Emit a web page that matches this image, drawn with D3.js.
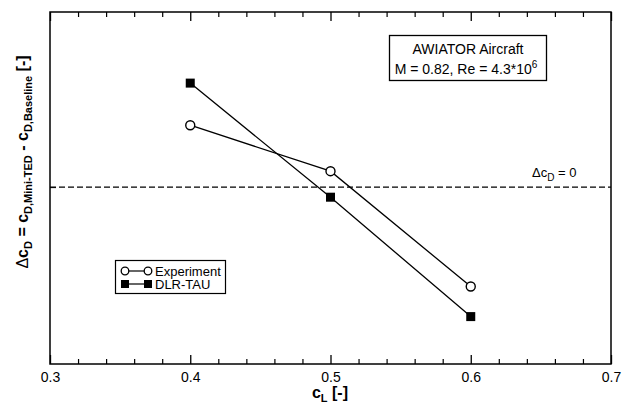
<!DOCTYPE html>
<html>
<head>
<meta charset="utf-8">
<script src="https://cdn.jsdelivr.net/npm/d3@7"></script>
<style>
  body { margin: 0; background: #fff; }
  svg text { font-family: 'Liberation Sans', Arial, sans-serif; fill: #000; }
</style>
</head>
<body>
<div id="chart"></div>
<script>
var CL = [0.4, 0.5, 0.6]
var EXPERIMENT = [0.35, 0.09, -0.562]
var DLR_TAU = [0.588, -0.057, -0.732]
var X_TICKS = [0.3, 0.4, 0.5, 0.6, 0.7]

var W = 625, H = 405
var margin = { top: 12, right: 14, bottom: 41, left: 50 }
var width = W - margin.left - margin.right
var height = H - margin.top - margin.bottom

var svg = d3.select('#chart').append('svg')
    .attr('width', W)
    .attr('height', H)

var g = svg.append('g')
    .attr('transform', 'translate(' + margin.left + ',' + margin.top + ')')

var x = d3.scaleLinear().domain([0.3, 0.7]).range([0, width])
var y = d3.scaleLinear().domain([-1.0, 0.99]).range([height, 0])

// minor ticks on bottom and top
var minor = d3.range(0.32, 0.7, 0.02).filter(function (v) {
    return Math.abs(Math.round(v * 10) - v * 10) > 0.01
})

var xAxis = d3.axisBottom(x).tickValues(X_TICKS).tickSize(-9).tickPadding(8)
    .tickFormat(d3.format('.1f'))
g.append('g')
    .attr('transform', 'translate(0,' + height + ')')
    .call(xAxis)
    .call(function (s) {
        s.select('.domain').remove()
        s.selectAll('line').attr('stroke-width', 1.3)
        s.selectAll('text').style('font-size', '14px')
    })

g.append('g')
    .attr('transform', 'translate(0,' + height + ')')
    .call(d3.axisBottom(x).tickValues(minor).tickSize(-5).tickFormat(''))
    .call(function (s) { s.select('.domain').remove(); s.selectAll('line').attr('stroke-width', 1.2) })

g.append('g')
    .call(d3.axisTop(x).tickValues(X_TICKS).tickSize(-9).tickFormat(''))
    .call(function (s) { s.select('.domain').remove(); s.selectAll('line').attr('stroke-width', 1.3) })

g.append('g')
    .call(d3.axisTop(x).tickValues(minor).tickSize(-5).tickFormat(''))
    .call(function (s) { s.select('.domain').remove(); s.selectAll('line').attr('stroke-width', 1.2) })

// y tick at zero
g.append('g')
    .call(d3.axisLeft(y).tickValues([0]).tickSize(-6).tickFormat(''))
    .call(function (s) { s.select('.domain').remove() })

// frame
g.append('rect')
    .attr('width', width)
    .attr('height', height)
    .attr('fill', 'none')
    .attr('stroke', '#000')
    .attr('stroke-width', 1.5)

// zero line
g.append('line')
    .attr('x1', 0).attr('x2', width)
    .attr('y1', y(0)).attr('y2', y(0))
    .attr('stroke', '#000')
    .attr('stroke-width', 1.3)
    .attr('stroke-dasharray', '6,3')

var zl = g.append('text')
    .attr('x', 482)
    .attr('y', y(0) - 10)
    .style('font-size', '13px')
zl.append('tspan').text('\u0394c')
zl.append('tspan').attr('dy', 4).style('font-size', '10px').text('D')
zl.append('tspan').attr('dy', -4).text(' = 0')

var line = d3.line()
    .x(function (d) { return x(d[0]) })
    .y(function (d) { return y(d[1]) })

var expData = CL.map(function (c, i) { return [c, EXPERIMENT[i]] })
var dlrData = CL.map(function (c, i) { return [c, DLR_TAU[i]] })

g.append('path').datum(expData)
    .attr('d', line).attr('fill', 'none').attr('stroke', '#000').attr('stroke-width', 1.3)
g.append('path').datum(dlrData)
    .attr('d', line).attr('fill', 'none').attr('stroke', '#000').attr('stroke-width', 1.3)

g.selectAll('.exp').data(expData).enter().append('circle')
    .attr('class', 'exp')
    .attr('cx', function (d) { return x(d[0]) })
    .attr('cy', function (d) { return y(d[1]) })
    .attr('r', 4.5)
    .attr('fill', '#fff')
    .attr('stroke', '#000')
    .attr('stroke-width', 1.4)

g.selectAll('.dlr').data(dlrData).enter().append('rect')
    .attr('class', 'dlr')
    .attr('x', function (d) { return x(d[0]) - 4.5 })
    .attr('y', function (d) { return y(d[1]) - 4.5 })
    .attr('width', 9)
    .attr('height', 9)
    .attr('fill', '#000')

// annotation box
svg.append('rect')
    .attr('x', 389.5).attr('y', 35.5)
    .attr('width', 157).attr('height', 45)
    .attr('fill', '#fff').attr('stroke', '#000').attr('stroke-width', 1.3)
svg.append('text')
    .attr('x', 468).attr('y', 54)
    .attr('text-anchor', 'middle')
    .style('font-size', '14px')
    .text('AWIATOR Aircraft')
var re = svg.append('text')
    .attr('x', 466).attr('y', 74)
    .attr('text-anchor', 'middle')
    .style('font-size', '14px')
re.append('tspan').text('M = 0.82, Re = 4.3*10')
re.append('tspan').attr('dy', -6).style('font-size', '10px').text('6')

// legend
var legend = svg.append('g')
legend.append('rect')
    .attr('x', 115.5).attr('y', 260.5)
    .attr('width', 110).attr('height', 33)
    .attr('fill', '#fff').attr('stroke', '#000').attr('stroke-width', 1.2)
var items = [
    { name: 'Experiment', type: 'circle', y: 271 },
    { name: 'DLR-TAU', type: 'square', y: 284 }
]
items.forEach(function (it) {
    legend.append('line')
        .attr('x1', 125).attr('x2', 148)
        .attr('y1', it.y).attr('y2', it.y)
        .attr('stroke', '#000').attr('stroke-width', 1.2)
    ;[125, 148].forEach(function (cx) {
        if (it.type === 'circle') {
            legend.append('circle')
                .attr('cx', cx).attr('cy', it.y).attr('r', 3.8)
                .attr('fill', '#fff').attr('stroke', '#000').attr('stroke-width', 1.3)
        } else {
            legend.append('rect')
                .attr('x', cx - 4).attr('y', it.y - 4)
                .attr('width', 8).attr('height', 8).attr('fill', '#000')
        }
    })
    legend.append('text')
        .attr('x', 155).attr('y', it.y + 4.5)
        .style('font-size', '13px')
        .text(it.name)
})

// x axis title
var xt = svg.append('text')
    .attr('x', 330).attr('y', 398)
    .attr('text-anchor', 'middle')
    .style('font-size', '16px')
    .style('font-weight', 'bold')
xt.append('tspan').text('c')
xt.append('tspan').attr('dy', 4).style('font-size', '11px').text('L')
xt.append('tspan').attr('dy', -4).text(' [-]')

// y axis title
var yt = svg.append('text')
    .attr('transform', 'translate(28,162) rotate(-90)')
    .attr('text-anchor', 'middle')
    .style('font-size', '16px')
    .style('font-weight', 'bold')
yt.append('tspan').style('font-weight', 'normal').text('\u0394')
yt.append('tspan').text('c')
yt.append('tspan').attr('dy', 4).style('font-size', '11px').text('D')
yt.append('tspan').attr('dy', -4).text(' = c')
yt.append('tspan').attr('dy', 4).style('font-size', '11px').text('D,Mini-TED')
yt.append('tspan').attr('dy', -4).text(' - c')
yt.append('tspan').attr('dy', 4).style('font-size', '11px').text('D,Baseline')
yt.append('tspan').attr('dy', -4).text(' [-]')
</script>
</body>
</html>
